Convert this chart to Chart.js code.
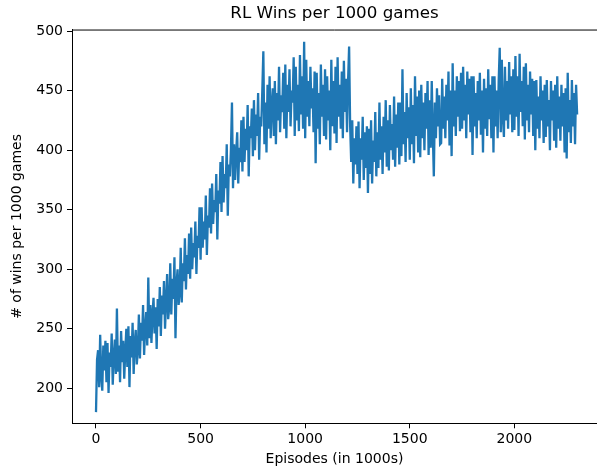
<!DOCTYPE html>
<html>
<head>
<meta charset="utf-8">
<script src="https://cdn.jsdelivr.net/npm/chart.js@4/dist/chart.umd.min.js"></script>
<style>
  html, body { margin: 0; padding: 0; background: #fff; }
</style>
</head>
<body>
<canvas id="chart" width="597" height="469"></canvas>
<script>
const episodeStep = 5;
const wins = [
  180, 224, 232, 201, 245, 210, 198, 236, 215, 240,
  205, 238, 196, 230, 218, 246, 203, 226, 241, 212,
  267, 214, 236, 205, 248, 222, 240, 208, 231, 250,
  218, 252, 201, 244, 226, 255, 212, 238, 249, 220,
  232, 262, 225, 255, 240, 270, 228, 251, 264, 236,
  293, 242, 270, 238, 262, 276, 246, 268, 233, 275,
  252, 285, 244, 278, 262, 290, 250, 272, 296, 258,
  268, 305, 262, 292, 275, 310, 242, 288, 300, 270,
  280, 318, 272, 305, 290, 326, 283, 312, 296, 330,
  292, 335, 300, 322, 310, 340, 296, 328, 318, 352,
  308, 352, 318, 340, 325, 362, 312, 345, 335, 368,
  330, 372, 338, 358, 348, 380, 325, 366, 355, 390,
  348, 395, 356, 380, 368, 405, 345, 388, 378, 400,
  440, 368, 405, 375, 398, 415, 372, 402, 390, 425,
  382, 428, 390, 418, 400, 438, 378, 420, 410, 435,
  395, 442, 400, 430, 412, 448, 392, 428, 420, 450,
  483, 405, 440, 398, 455, 418, 462, 410, 438, 452,
  412, 458, 405, 448, 425, 470, 415, 446, 432, 465,
  418, 472, 410, 455, 432, 468, 420, 450, 440, 478,
  412, 470, 425, 455, 416, 480, 430, 462, 418, 491,
  410, 476, 428, 458, 420, 470, 435, 452, 415, 466,
  389, 465, 418, 448, 405, 472, 428, 455, 412, 468,
  409, 462, 425, 450, 400, 476, 420, 458, 414, 470,
  406, 478, 428, 455, 418, 466, 410, 475, 432, 460,
  415, 458, 487, 420, 390, 425, 372, 410, 388, 420,
  380, 424, 368, 410, 392, 428, 375, 415, 385, 420,
  364, 418, 380, 425, 372, 408, 390, 432, 378, 415,
  385, 440, 392, 420, 380, 428, 398, 442, 386, 425,
  383, 438, 400, 422, 392, 445, 386, 430, 402, 440,
  388, 440, 395, 468, 405, 432, 390, 448, 410, 436,
  392, 452, 405, 438, 389, 462, 412, 445, 398, 450,
  394, 455, 410, 440, 400, 448, 418, 458, 396, 442,
  402, 458, 415, 378, 440, 410, 452, 420, 446, 405,
  406, 460, 418, 445, 410, 455, 425, 466, 404, 450,
  395, 473, 420, 450, 412, 462, 428, 458, 416, 465,
  418, 470, 425, 455, 410, 466, 430, 460, 415, 462,
  396, 462, 420, 448, 410, 458, 425, 465, 413, 450,
  398, 460, 418, 452, 412, 468, 426, 455, 410, 462,
  398, 462, 420, 450, 410, 458, 486, 415, 476, 428,
  411, 470, 425, 458, 418, 474, 430, 462, 415, 468,
  417, 479, 428, 462, 412, 481, 432, 458, 420, 470,
  409, 473, 425, 455, 415, 466, 430, 460, 412, 458,
  400, 459, 418, 445, 410, 462, 425, 450, 406, 455,
  411, 459, 420, 442, 400, 458, 425, 450, 408, 455,
  402, 462, 418, 445, 408, 455, 420, 448, 398, 452,
  393, 465, 415, 442, 406, 459, 420, 448, 405, 455,
  430
];
const xTicks = [0, 500, 1000, 1500, 2000];
const yTicks = [200, 250, 300, 350, 400, 450, 500];

const font = { family: "'DejaVu Sans', sans-serif", size: 14 };

// matplotlib keeps a top spine, chart.js doesn't
const topSpine = {
  id: "topSpine",
  afterDraw(chart) {
    const { ctx, chartArea } = chart;
    ctx.save();
    ctx.strokeStyle = "#000";
    ctx.lineWidth = 1;
    ctx.beginPath();
    ctx.moveTo(chartArea.left, chartArea.top + 0.5);
    ctx.lineTo(chartArea.right, chartArea.top + 0.5);
    ctx.stroke();
    ctx.restore();
  },
};

new Chart(document.getElementById("chart"), {
  type: "line",
  data: {
    datasets: [
      {
        data: wins.map((v, i) => ({ x: i * episodeStep, y: v })),
        borderColor: "#1f77b4",
        borderWidth: 2.3,
        pointRadius: 0,
        tension: 0,
        fill: false,
      },
    ],
  },
  options: {
    responsive: false,
    animation: false,
    devicePixelRatio: 1,
    layout: { padding: 0 },
    plugins: {
      legend: { display: false },
      tooltip: { enabled: false },
      title: {
        display: true,
        text: "RL Wins per 1000 games",
        fullSize: false,
        color: "#000",
        font: { family: font.family, size: 16.7, weight: "normal" },
        padding: { top: 3.5, bottom: 6 },
      },
    },
    scales: {
      x: {
        type: "linear",
        min: -114.7,
        max: 2395,
        afterFit: (s) => { s.height = 45.7; },
        afterBuildTicks: (s) => { s.ticks = xTicks.map((v) => ({ value: v })); },
        grid: { drawOnChartArea: false, color: "#000", tickLength: 5, lineWidth: 1 },
        border: { color: "#000", width: 1 },
        ticks: { color: "#000", font, padding: 3, maxRotation: 0, callback: (v) => String(v) },
        title: {
          display: true,
          text: "Episodes (in 1000s)",
          color: "#000",
          font,
          padding: { top: 0, bottom: 1 },
        },
      },
      y: {
        min: 170.6,
        max: 501.3,
        afterFit: (s) => { s.width = 72; },
        afterBuildTicks: (s) => { s.ticks = yTicks.map((v) => ({ value: v })); },
        grid: { drawOnChartArea: false, color: "#000", tickLength: 5, lineWidth: 1 },
        border: { color: "#000", width: 1 },
        ticks: { color: "#000", font, padding: 4, callback: (v) => String(v) },
        title: {
          display: true,
          text: "# of wins per 1000 games",
          color: "#000",
          font,
          padding: { top: 9, bottom: 0 },
        },
      },
    },
  },
  plugins: [topSpine],
});
</script>
</body>
</html>
